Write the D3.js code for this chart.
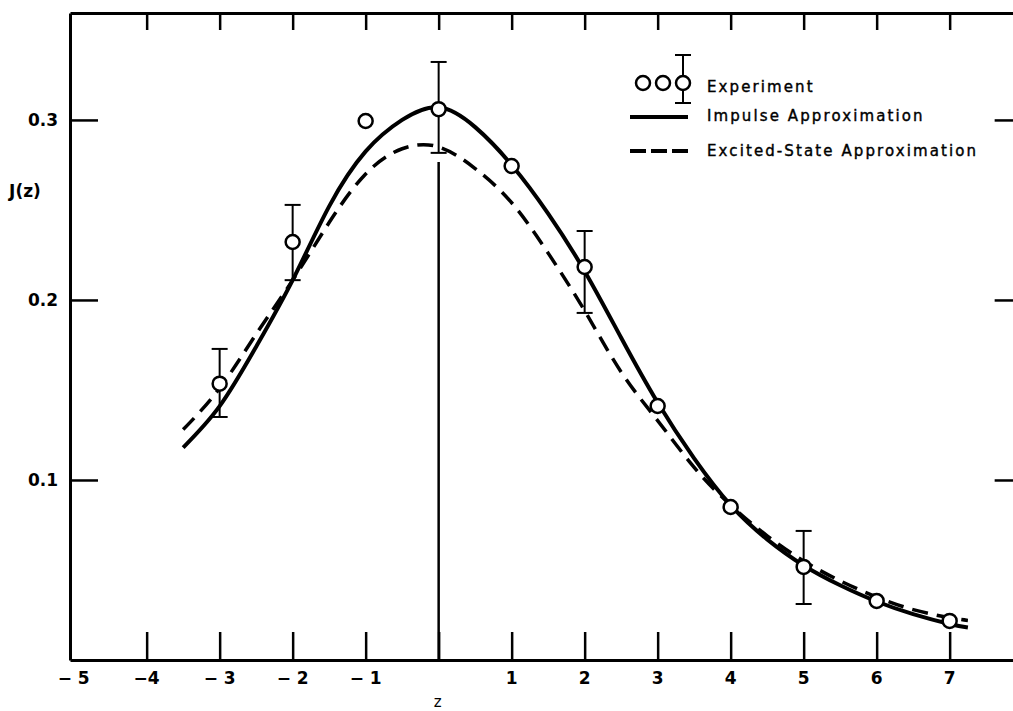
<!DOCTYPE html>
<html>
<head>
<meta charset="utf-8">
<script src="https://cdn.jsdelivr.net/npm/d3@7.9.0/dist/d3.min.js"></script>
<style>
  html, body { margin: 0; padding: 0; background: #fff; }
  svg { display: block; font-family: "DejaVu Sans", sans-serif; }
</style>
</head>
<body>
<div id="chart"></div>
<script>
// curve samples
const zGrid = [-3.5, -3, -2.5, -2, -1.5, -1, -0.5, 0, 0.5, 1, 1.5, 2, 2.5, 3, 3.5, 4, 4.5, 5, 5.5, 6, 6.5, 7, 7.25];
const impulse = [0.118, 0.141, 0.174, 0.211, 0.252, 0.2825, 0.300, 0.307, 0.296, 0.275, 0.248, 0.216, 0.179, 0.143, 0.112, 0.086, 0.067, 0.0525, 0.0415, 0.0325, 0.0255, 0.020, 0.018];
const excited = [0.128, 0.151, 0.181, 0.211, 0.243, 0.270, 0.284, 0.285, 0.273, 0.254, 0.226, 0.194, 0.160, 0.133, 0.107, 0.086, 0.069, 0.055, 0.044, 0.035, 0.028, 0.0235, 0.022];

// experiment points
const expZ = [-3, -2, -1, 0, 1, 2, 3, 4, 5, 6, 7];
const expJ = [0.1535, 0.2322, 0.2994, 0.306, 0.2744, 0.2183, 0.1411, 0.085, 0.0517, 0.0328, 0.0217];

// error bars
const errZ = [-3, -2, 0, 2, 5];
const errLo = [0.135, 0.211, 0.2817, 0.1928, 0.0311];
const errHi = [0.1728, 0.2528, 0.3322, 0.2383, 0.0717];

const xTicks = [-4, -3, -2, -1, 0, 1, 2, 3, 4, 5, 6, 7];
const xLabels = { '-5': '\u2212 5', '-4': '\u22124', '-3': '\u2212 3', '-2': '\u2212 2', '-1': '\u2212 1', '1': '1', '2': '2', '3': '3', '4': '4', '5': '5', '6': '6', '7': '7' };
const yTicks = [0.1, 0.2, 0.3];
const legendItems = ['Experiment', 'Impulse Approximation', 'Excited-State Approximation'];

const width = 1013;
const height = 711;

const svg = d3.select('#chart').append('svg')
  .attr('width', width)
  .attr('height', height);

const x = d3.scaleLinear().domain([-5.05, 8]).range([70, 1022.65]);
const y = d3.scaleLinear().domain([0, 0.3594]).range([660, 13]);

// frame + ticks
const axBottom = svg.append('g')
  .attr('transform', `translate(0,${y(0)})`)
  .call(d3.axisBottom(x).tickValues(xTicks).tickSizeInner(-28).tickSizeOuter(0).tickFormat(() => ''));
const axTop = svg.append('g')
  .attr('transform', `translate(0,${y(0.3594)})`)
  .call(d3.axisTop(x).tickValues(xTicks).tickSizeInner(-17).tickSizeOuter(0).tickFormat(() => ''));
const axLeft = svg.append('g')
  .attr('transform', `translate(${x(-5.05)},0)`)
  .call(d3.axisLeft(y).tickValues(yTicks).tickSizeInner(-28).tickSizeOuter(0).tickFormat(() => ''));
const axRight = svg.append('g')
  .attr('transform', `translate(${x(8)},0)`)
  .call(d3.axisRight(y).tickValues(yTicks).tickSizeInner(-28).tickSizeOuter(0).tickFormat(() => ''));

[axBottom, axTop, axLeft, axRight].forEach((g) => {
  g.select('.domain').attr('stroke', '#000').attr('stroke-width', 3);
  g.selectAll('.tick line').attr('stroke', '#000').attr('stroke-width', 2.5);
});

// tick labels
svg.append('g').selectAll('text')
  .data([-5, -4, -3, -2, -1, 1, 2, 3, 4, 5, 6, 7])
  .join('text')
  .attr('x', (d) => x(d))
  .attr('y', 684)
  .attr('text-anchor', 'middle')
  .attr('font-size', 17)
  .attr('font-weight', 'bold')
  .text((d) => xLabels[d]);

svg.append('g').selectAll('text')
  .data(yTicks)
  .join('text')
  .attr('x', 58)
  .attr('y', (d) => y(d) + 6)
  .attr('text-anchor', 'end')
  .attr('font-size', 17)
  .attr('font-weight', 'bold')
  .text((d) => d.toFixed(1));

svg.append('text')
  .attr('x', 25).attr('y', 197)
  .attr('text-anchor', 'middle')
  .attr('font-size', 17)
  .attr('font-weight', 'bold')
  .text('J(z)');

svg.append('text')
  .attr('x', x(0) - 1).attr('y', 707)
  .attr('text-anchor', 'middle')
  .attr('font-size', 15)
  .text('z');

// vertical line at z = 0
svg.append('line')
  .attr('x1', x(0)).attr('x2', x(0))
  .attr('y1', y(0)).attr('y2', y(0.2767))
  .attr('stroke', '#000').attr('stroke-width', 2.5);

// curves
const line = (vals) => d3.line()
  .x((d, i) => x(zGrid[i]))
  .y((d) => y(d))
  .curve(d3.curveNatural)(vals);

svg.append('path')
  .attr('d', line(excited))
  .attr('fill', 'none')
  .attr('stroke', '#000')
  .attr('stroke-width', 3.5)
  .attr('stroke-dasharray', '16,9');

svg.append('path')
  .attr('d', line(impulse))
  .attr('fill', 'none')
  .attr('stroke', '#000')
  .attr('stroke-width', 4);

// error bars
const eb = svg.append('g').attr('stroke', '#000').attr('stroke-width', 2);
errZ.forEach((z, i) => {
  eb.append('line').attr('x1', x(z)).attr('x2', x(z)).attr('y1', y(errLo[i])).attr('y2', y(errHi[i]));
  eb.append('line').attr('x1', x(z) - 8).attr('x2', x(z) + 8).attr('y1', y(errLo[i])).attr('y2', y(errLo[i]));
  eb.append('line').attr('x1', x(z) - 8).attr('x2', x(z) + 8).attr('y1', y(errHi[i])).attr('y2', y(errHi[i]));
});

// experiment circles
svg.append('g').selectAll('circle')
  .data(expZ)
  .join('circle')
  .attr('cx', (d) => x(d))
  .attr('cy', (d, i) => y(expJ[i]))
  .attr('r', 7)
  .attr('fill', '#fff')
  .attr('stroke', '#000')
  .attr('stroke-width', 2.5);

// legend
const lg = svg.append('g').attr('transform', 'translate(630,83)');
[13, 33, 53].forEach((cx, i) => {
  if (i === 2) {
    lg.append('line').attr('x1', cx).attr('x2', cx).attr('y1', -28).attr('y2', 20).attr('stroke', '#000').attr('stroke-width', 2);
    lg.append('line').attr('x1', cx - 8).attr('x2', cx + 8).attr('y1', -28).attr('y2', -28).attr('stroke', '#000').attr('stroke-width', 2);
    lg.append('line').attr('x1', cx - 8).attr('x2', cx + 8).attr('y1', 20).attr('y2', 20).attr('stroke', '#000').attr('stroke-width', 2);
  }
  lg.append('circle').attr('cx', cx).attr('cy', 0).attr('r', 7)
    .attr('fill', '#fff').attr('stroke', '#000').attr('stroke-width', 2.5);
});
lg.append('line').attr('x1', 0).attr('x2', 58).attr('y1', 34).attr('y2', 34)
  .attr('stroke', '#000').attr('stroke-width', 4);
lg.append('line').attr('x1', 0).attr('x2', 58).attr('y1', 68).attr('y2', 68)
  .attr('stroke', '#000').attr('stroke-width', 4).attr('stroke-dasharray', '16,5');
lg.selectAll('text.lab')
  .data(legendItems)
  .join('text')
  .attr('class', 'lab')
  .attr('x', 77)
  .attr('y', (d, i) => [9, 38, 73][i])
  .attr('font-size', 15)
  .attr('letter-spacing', 2.1)
  .attr('stroke', '#000')
  .attr('stroke-width', 0.4)
  .text((d) => d);
</script>
</body>
</html>
